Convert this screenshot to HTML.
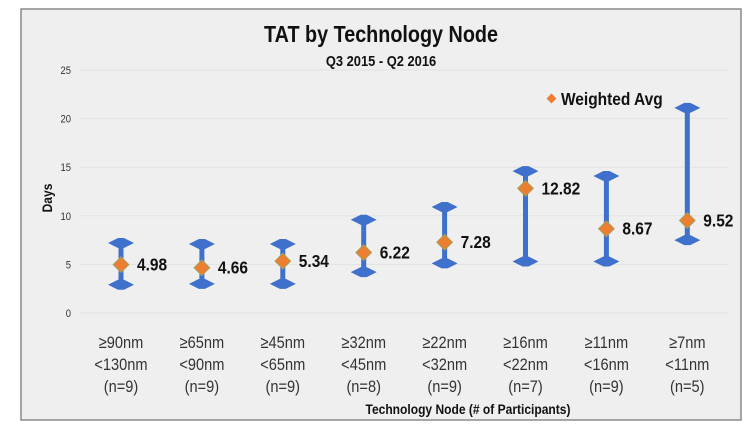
<!DOCTYPE html>
<html><head><meta charset="utf-8"><style>
body{margin:0;background:#fff;}
svg{display:block;font-family:"Liberation Sans",sans-serif;}
</style></head><body>
<svg id="c" width="747" height="430">
<rect x="21" y="9" width="720" height="411" fill="#efefef" stroke="#8a8a8a" stroke-width="1.5"/>
<text transform="translate(381,42) scale(0.86,1)" text-anchor="middle" font-size="23" font-weight="bold" fill="#111">TAT by Technology Node</text>
<text transform="translate(381,66) scale(0.86,1)" text-anchor="middle" font-size="15" font-weight="bold" fill="#111">Q3 2015 - Q2 2016</text>
<text transform="translate(52,198) rotate(-90) scale(0.86,1)" text-anchor="middle" font-size="14" font-weight="bold" fill="#111">Days</text>
<text transform="translate(468,414) scale(0.86,1)" text-anchor="middle" font-size="14" font-weight="bold" fill="#111">Technology Node (# of Participants)</text>
<g>
<rect x="548" y="95" width="7" height="7" fill="#ed7d31" transform="rotate(45 551.5 98.5)"/>
<text transform="translate(561,105) scale(0.86,1)" font-size="18" font-weight="bold" fill="#111">Weighted Avg</text>
</g>
<g id="grid"></g><g id="marks"></g>
</svg>
<script>
const categories1=["≥90nm","≥65nm","≥45nm","≥32nm","≥22nm","≥16nm","≥11nm","≥7nm"];
const categories2=["<130nm","<90nm","<65nm","<45nm","<32nm","<22nm","<16nm","<11nm"];
const counts=["(n=9)","(n=9)","(n=9)","(n=8)","(n=9)","(n=7)","(n=9)","(n=5)"];
const minValues=[2.9,3.0,3.0,4.2,5.1,5.3,5.3,7.5];
const maxValues=[7.2,7.1,7.1,9.6,10.9,14.6,14.1,21.1];
const avgValues=[4.98,4.66,5.34,6.22,7.28,12.82,8.67,9.52];
const yTicks=[0,5,10,15,20,25];
const NS="http://www.w3.org/2000/svg";
const y=v=>313-v*(243/25);
const x=i=>121+i*80.9;
function mk(t,a,p){const e=document.createElementNS(NS,t);for(const k in a)e.setAttribute(k,a[k]);p.appendChild(e);return e;}
const grid=document.getElementById('grid'),marks=document.getElementById('marks');
yTicks.forEach(t=>{
 const l=mk('line',{x1:80,x2:728,y1:y(t),y2:y(t),stroke:'#e2e2e2','stroke-width':1},grid);
 
 
 const tx=mk('text',{transform:`translate(71,${y(t)+4}) scale(0.86,1)`,'text-anchor':'end','font-size':11,fill:'#333'},grid);
 tx.textContent=t;
 
 
});
const cap=(cx,cy)=>`${cx-13},${cy} ${cx-3},${cy-5} ${cx+3},${cy-5} ${cx+13},${cy} ${cx+3},${cy+5} ${cx-3},${cy+5}`;
categories1.forEach((c,i)=>{
 const cx=x(i);
 const g=mk('g',{},marks);
 
 
 mk('line',{x1:cx,x2:cx,y1:y(maxValues[i]),y2:y(minValues[i]),stroke:'#3f71cc','stroke-width':5},g);
 mk('polygon',{points:cap(cx,y(maxValues[i])),fill:'#3f71cc'},g);
 mk('polygon',{points:cap(cx,y(minValues[i])),fill:'#3f71cc'},g);
 const d=mk('rect',{x:cx-5.5,y:y(avgValues[i])-5.5,width:11,height:11,fill:'#ed7d31',stroke:'#a3a05a','stroke-width':1,transform:`rotate(45 ${cx} ${y(avgValues[i])})`},marks);
 
 
 const v=mk('text',{transform:`translate(${cx+16},${y(avgValues[i])+6}) scale(0.86,1)`,'font-size':18,'font-weight':'bold',fill:'#111'},marks);
 v.textContent=avgValues[i].toFixed(2);
 
 
 [categories1[i],categories2[i],counts[i]].forEach((s,k)=>{
  const t=mk('text',{transform:`translate(${cx},${348+k*22}) scale(0.86,1)`,'text-anchor':'middle','font-size':17,fill:'#333'},marks);
  t.textContent=s;
  
  
 });
});
</script>
</body></html>
